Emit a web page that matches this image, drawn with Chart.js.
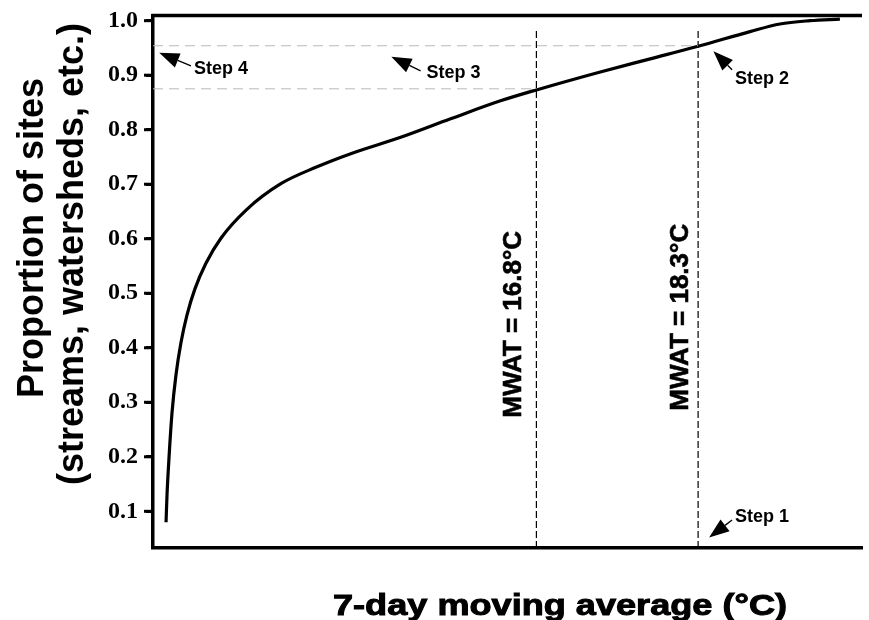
<!DOCTYPE html>
<html>
<head>
  <meta charset="UTF-8">
  <script src="https://cdn.jsdelivr.net/npm/chart.js"></script>
  <title>MWAT</title>
  <style>
    html, body { margin: 0; padding: 0; background: #fff; }
    .cont { width: 869px; height: 620px; }
  </style>
</head>
<body>
  <div class="cont">
    <canvas id="myChart" width="869" height="620"></canvas>
  </div>
  <script>
    // curve (x = 7-day moving average, °C; y = proportion)
    const tempC = [13.365, 13.374, 13.393, 13.420, 13.457, 13.504, 13.559, 13.633, 13.735, 13.874,
      14.115, 14.430, 14.754, 15.078, 15.541, 16.004, 16.467, 16.800, 17.393, 17.856,
      18.300, 18.781, 19.059, 19.337, 19.615];
    const proportion = [0.080, 0.130, 0.200, 0.280, 0.350, 0.410, 0.460, 0.508, 0.555, 0.601,
      0.654, 0.701, 0.731, 0.756, 0.786, 0.820, 0.853, 0.873, 0.906, 0.930,
      0.953, 0.980, 0.994, 1.000, 1.003];

    const yTicks = [0.1, 0.2, 0.3, 0.4, 0.5, 0.6, 0.7, 0.8, 0.9, 1.0];
    const xMin = 13.244, xMax = 19.82;
    const yMin = 0.0327, yMax = 1.0095;

    // MWAT vertical lines and the proportion they cut the curve at
    const mwat = [16.8, 18.3];
    const mwatTop = [0.982, 0.985];
    const mwatLevel = [0.875, 0.954];
    const mwatLabels = ['MWAT = 16.8°C', 'MWAT = 18.3°C'];
    const mwatLabelPos = [[16.587, 0.443], [18.143, 0.456]];

    // step notes: arrow tip, arrow tail, text position
    const stepNames = ['Step 1', 'Step 2', 'Step 3', 'Step 4'];
    const stepTip = [[18.402, 0.052], [18.442, 0.944], [15.455, 0.934], [13.302, 0.941]];
    const stepTail = [[18.615, 0.084], [18.615, 0.910], [15.726, 0.908], [13.596, 0.917]];
    const stepText = [[18.643, 0.080], [18.643, 0.883], [15.781, 0.894], [13.624, 0.903]];

    const datasets = [];
    mwatLevel.forEach((lv, i) => {
      datasets.push({
        data: [{ x: xMin, y: lv }, { x: mwat[i], y: lv }],
        borderColor: '#b8b8b8',
        borderWidth: 1,
        borderDash: [10, 6],
        pointRadius: 0
      });
    });
    mwat.forEach((m, i) => {
      datasets.push({
        data: [{ x: m, y: yMin }, { x: m, y: mwatTop[i] }],
        borderColor: '#000',
        borderWidth: 1.2,
        borderDash: [7, 3],
        pointRadius: 0
      });
    });
    datasets.push({
      data: tempC.map((t, i) => ({ x: t, y: proportion[i] })),
      borderColor: '#000',
      borderWidth: 3.2,
      pointRadius: 0,
      cubicInterpolationMode: 'monotone',
      clip: false
    });

    function arrow(ctx, x0, y0, x1, y1) {
      const dx = x1 - x0, dy = y1 - y0;
      const len = Math.sqrt(dx * dx + dy * dy);
      const ux = dx / len, uy = dy / len;
      const hl = 20, hw = 7.5;
      const bx = x1 - ux * hl, by = y1 - uy * hl;
      ctx.beginPath();
      ctx.moveTo(x0, y0);
      ctx.lineTo(bx, by);
      ctx.lineWidth = 1.3;
      ctx.strokeStyle = '#000';
      ctx.stroke();
      ctx.beginPath();
      ctx.moveTo(x1, y1);
      ctx.lineTo(bx - uy * hw, by + ux * hw);
      ctx.lineTo(bx + uy * hw, by - ux * hw);
      ctx.closePath();
      ctx.fillStyle = '#000';
      ctx.fill();
    }

    const notes = {
      id: 'notes',
      afterDraw(chart) {
        const ctx = chart.ctx;
        const xs = chart.scales.x, ys = chart.scales.y;
        const a = chart.chartArea;
        ctx.save();

        // top frame line
        ctx.beginPath();
        ctx.moveTo(a.left - 1.5, a.top);
        ctx.lineTo(a.right, a.top);
        ctx.lineWidth = 3.5;
        ctx.strokeStyle = '#000';
        ctx.stroke();

        // y tick marks (outside)
        ctx.lineWidth = 3;
        yTicks.forEach(v => {
          const py = ys.getPixelForValue(v);
          ctx.beginPath();
          ctx.moveTo(a.left - 1, py);
          ctx.lineTo(a.left - 9, py);
          ctx.stroke();
        });

        // MWAT labels (vertical)
        ctx.fillStyle = '#000';
        ctx.font = 'bold 26px "Liberation Sans", Arial, sans-serif';
        ctx.textAlign = 'center';
        ctx.textBaseline = 'middle';
        mwatLabels.forEach((txt, i) => {
          ctx.save();
          ctx.translate(xs.getPixelForValue(mwatLabelPos[i][0]), ys.getPixelForValue(mwatLabelPos[i][1]));
          ctx.rotate(-Math.PI / 2);
          ctx.lineWidth = 0.6;
          ctx.strokeText(txt, 0, 0);
          ctx.fillText(txt, 0, 0);
          ctx.restore();
        });

        // step notes
        ctx.font = 'bold 18px "Liberation Sans", Arial, sans-serif';
        ctx.textAlign = 'left';
        ctx.textBaseline = 'alphabetic';
        stepNames.forEach((txt, i) => {
          ctx.fillText(txt, xs.getPixelForValue(stepText[i][0]), ys.getPixelForValue(stepText[i][1]));
          arrow(ctx,
            xs.getPixelForValue(stepTail[i][0]), ys.getPixelForValue(stepTail[i][1]),
            xs.getPixelForValue(stepTip[i][0]), ys.getPixelForValue(stepTip[i][1]));
        });

        // y axis title, two lines
        ctx.font = 'bold 36px "Liberation Sans", Arial, sans-serif';
        ctx.textAlign = 'center';
        ctx.textBaseline = 'alphabetic';
        ctx.save();
        ctx.translate(43, 238);
        ctx.rotate(-Math.PI / 2);
        ctx.fillText('Proportion of sites', 0, 0);
        ctx.restore();
        ctx.save();
        ctx.translate(83, 254);
        ctx.rotate(-Math.PI / 2);
        ctx.fillText('(streams, watersheds, etc.)', 0, 0);
        ctx.restore();

        // x axis title, wide heavy face
        ctx.font = 'bold 30px "Liberation Sans", Arial, sans-serif';
        const xt = '7-day moving average (°C)';
        const w = ctx.measureText(xt).width;
        ctx.save();
        ctx.translate(560, 615);
        ctx.scale(454 / w, 1);
        ctx.lineWidth = 1;
        ctx.strokeText(xt, 0, 0);
        ctx.fillText(xt, 0, 0);
        ctx.restore();

        ctx.restore();
      }
    };

    var ctx = document.getElementById('myChart').getContext('2d');
    var chart = new Chart(ctx, {
      type: 'line',
      data: { datasets: datasets },
      options: {
        responsive: false,
        animation: false,
        events: [],
        layout: { padding: { top: 15.5, right: 7, left: 0, bottom: 0 } },
        plugins: {
          legend: { display: false },
          tooltip: { enabled: false }
        },
        scales: {
          x: {
            type: 'linear',
            min: xMin,
            max: xMax,
            ticks: { display: false },
            grid: { display: false },
            border: { display: true, color: '#000', width: 3.5 },
            afterFit: s => { s.height = 72; s.paddingLeft = 0; s.paddingRight = 0; }
          },
          y: {
            type: 'linear',
            min: yMin,
            max: yMax,
            afterBuildTicks: s => { s.ticks = yTicks.map(v => ({ value: v })); },
            ticks: {
              color: '#000',
              padding: 8,
              font: { family: '"Liberation Serif", "Times New Roman", serif', size: 24, weight: 'bold' },
              callback: v => v.toFixed(1)
            },
            grid: {
              drawOnChartArea: false,
              drawTicks: true,
              tickLength: 7,
              tickWidth: 3,
              tickColor: '#000'
            },
            border: { display: true, color: '#000', width: 3.5 },
            afterFit: s => { s.width = 153; s.paddingTop = 0; s.paddingBottom = 0; }
          }
        }
      },
      plugins: [notes]
    });
  </script>
</body>
</html>
